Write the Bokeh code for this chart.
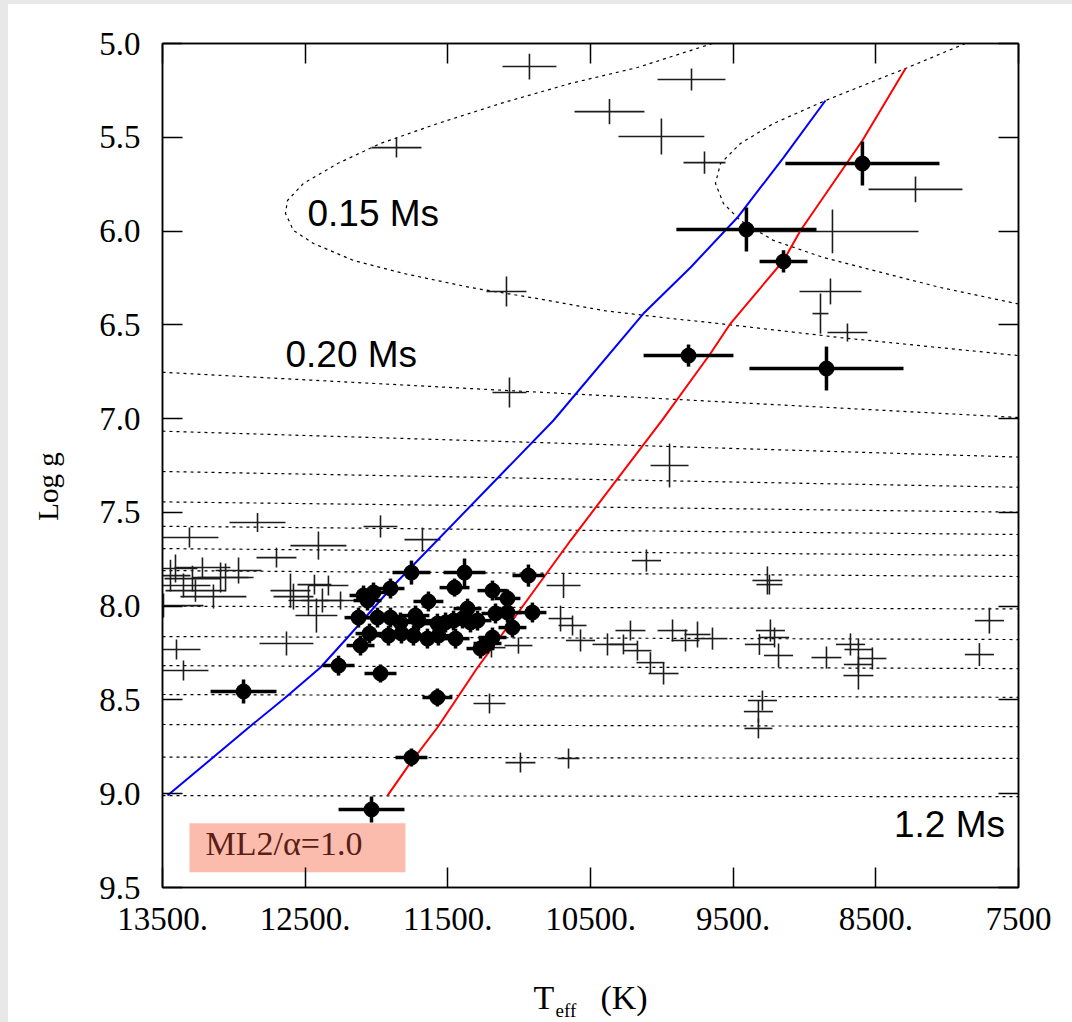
from math import pi

from bokeh.core.properties import value
from bokeh.embed import file_html
from bokeh.layouts import column, row
from bokeh.models import (BoxAnnotation, ColumnDataSource, FixedTicker, Label,
                          LinearAxis, Range1d, Spacer)
from bokeh.plotting import figure
from bokeh.resources import INLINE

# ---------------------------------------------------------------- data
x_ticks = [13500, 12500, 11500, 10500, 9500, 8500, 7500]
x_tick_labels = ["13500.", "12500.", "11500.", "10500.", "9500.", "8500.", "7500"]
y_ticks = [5.0, 5.5, 6.0, 6.5, 7.0, 7.5, 8.0, 8.5, 9.0, 9.5]
y_tick_labels = ["5.0", "5.5", "6.0", "6.5", "7.0", "7.5", "8.0", "8.5", "9.0", "9.5"]

# cooling tracks (0.20 ... 1.2 Ms): log g at the hot and cool ends of the plot
track_logg_hot = [6.753, 7.067, 7.282, 7.444, 7.574, 7.693, 7.810, 8.000,
                  8.162, 8.317, 8.471, 8.631, 8.805, 9.010]
track_logg_cool = [6.994, 7.205, 7.366, 7.499, 7.618, 7.730, 7.842, 8.015,
                   8.178, 8.333, 8.486, 8.642, 8.812, 9.016]

# low-mass tracks
loop_a_teff = [9645, 10171, 10640, 11110, 11573, 11972, 12273, 12512, 12624, 12638,
               12582, 12442, 12161, 11811, 11341, 10872, 10409, 9939, 9659, 8748, 7500]
loop_a_logg = [5.000, 5.128, 5.213, 5.315, 5.427, 5.533, 5.640, 5.746, 5.837, 5.906,
               5.997, 6.066, 6.157, 6.226, 6.301, 6.360, 6.424, 6.466, 6.488, 6.568, 6.664]
loop_b_teff = [7872, 8292, 8853, 9218, 9449, 9589, 9624, 9568, 9449, 9218, 8867,
               8517, 8047, 7500]
loop_b_logg = [5.000, 5.133, 5.304, 5.427, 5.533, 5.640, 5.746, 5.853, 5.944,
               6.050, 6.141, 6.210, 6.301, 6.389]

# instability strip edges
blue_edge_teff = [13465, 12862, 12638, 12393, 12203, 11881, 10760, 10129, 9799,
                  9470, 9147, 8853]
blue_edge_logg = [9.010, 8.626, 8.487, 8.327, 8.167, 7.890, 7.010, 6.440, 6.194,
                  5.928, 5.608, 5.304]
red_edge_teff = [11923, 11776, 11573, 11446, 11292, 11012, 10640, 9995, 9659,
                 9519, 9147, 9028, 8594, 8292]
red_edge_logg = [9.010, 8.850, 8.647, 8.503, 8.327, 8.039, 7.650, 7.005, 6.653,
                 6.493, 6.157, 5.997, 5.517, 5.133]

# non-variable stars
const_teff = [10928, 9792, 10367, 10003, 9701, 11860, 11089, 11068, 8222, 8804,
              8818, 8888, 8699, 9946, 7704, 7774, 10108, 10689, 9260, 9246,
              10570, 10381, 10220, 10269, 10171, 10080, 9988, 9925, 9834, 9750,
              9645, 9239, 9210, 9316, 9182, 8846, 8678, 8622, 8524, 8622,
              8622, 9295, 9323, 9323, 10654, 10991, 11208, 11005, 11194, 10710,
              10626, 12834, 13311, 12701, 12407, 11972, 11678, 13444, 13353, 13290,
              13220, 13093, 13058, 12967, 13143, 13493, 13269, 13409, 12603, 12582,
              12477, 12435, 12337, 12379, 12421, 12252, 12631, 13402, 13353]
const_logg = [5.123, 5.192, 5.363, 5.496, 5.635, 5.555, 6.322, 6.861, 5.778, 6.002,
              6.322, 6.440, 6.541, 7.250, 8.077, 8.258, 7.757, 7.890, 7.863, 7.885,
              8.183, 8.204, 8.130, 8.204, 8.237, 8.301, 8.359, 8.130, 8.183, 8.151,
              8.173, 8.130, 8.167, 8.204, 8.263, 8.274, 8.204, 8.231, 8.279, 8.370,
              8.311, 8.503, 8.562, 8.652, 8.812, 8.834, 8.519, 8.210, 8.221, 8.066,
              8.103, 7.554, 7.634, 7.741, 7.677, 7.575, 7.645, 7.837, 7.890, 7.853,
              7.794, 7.847, 7.847, 7.810, 7.949, 7.997, 7.917, 7.799, 7.917, 7.949,
              7.970, 7.885, 7.890, 7.970, 8.050, 7.970, 8.199, 8.231, 8.343]
const_teff_err = [189, 238, 245, 301, 147, 175, 140, 119, 329, 603,
                  217, 56, 140, 133, 102, 102, 102, 119, 105, 91,
                  102, 105, 105, 98, 98, 98, 105, 105, 98, 91,
                  105, 102, 102, 102, 102, 105, 102, 98, 98, 105,
                  102, 102, 102, 98, 77, 105, 112, 98, 98, 84,
                  98, 196, 203, 140, 196, 119, 126, 140, 189, 196,
                  196, 196, 196, 161, 231, 280, 210, 154, 140, 140,
                  140, 119, 140, 147, 147, 119, 189, 168, 175]
const_logg_err = [0.069, 0.059, 0.067, 0.096, 0.059, 0.053, 0.080, 0.080, 0.069, 0.117,
                  0.069, 0.107, 0.048, 0.117, 0.069, 0.061, 0.059, 0.067, 0.075, 0.053,
                  0.059, 0.059, 0.053, 0.053, 0.053, 0.056, 0.059, 0.059, 0.059, 0.069,
                  0.059, 0.059, 0.053, 0.056, 0.064, 0.059, 0.059, 0.059, 0.059, 0.075,
                  0.043, 0.053, 0.059, 0.053, 0.053, 0.053, 0.053, 0.043, 0.053, 0.069,
                  0.053, 0.051, 0.053, 0.053, 0.075, 0.059, 0.064, 0.085, 0.064, 0.069,
                  0.053, 0.080, 0.075, 0.069, 0.064, 0.064, 0.059, 0.075, 0.091, 0.069,
                  0.080, 0.053, 0.053, 0.064, 0.091, 0.048, 0.064, 0.053, 0.053]

# pulsating stars
zz_teff = [8594, 9407, 9147, 9813, 8846, 10935, 11383, 11755, 11453, 11187,
           11082, 11636, 12091, 12021, 11902, 12063, 11362, 10907, 11166, 11082,
           11047, 12126, 11993, 11902, 11832, 11727, 11706, 11573, 11516, 11460,
           11397, 11341, 11292, 12049, 11916, 11825, 11741, 11643, 11566, 11446,
           12112, 11271, 11222, 11187, 12266, 11972, 11573, 12932, 11755, 12035]
zz_logg = [5.640, 5.992, 6.162, 6.664, 6.733, 7.837, 7.821, 7.821, 7.901, 7.917,
           7.959, 7.975, 7.943, 7.927, 7.906, 7.970, 8.013, 8.034, 8.039, 8.034,
           8.114, 8.061, 8.061, 8.061, 8.087, 8.050, 8.077, 8.093, 8.087, 8.077,
           8.066, 8.087, 8.077, 8.146, 8.157, 8.146, 8.157, 8.173, 8.157, 8.173,
           8.210, 8.226, 8.199, 8.167, 8.317, 8.359, 8.487, 8.455, 8.807, 9.084]
zz_teff_err = [540, 491, 168, 315, 540, 112, 147, 133, 105, 105,
               91, 105, 98, 98, 98, 98, 98, 98, 98, 98,
               98, 98, 98, 98, 98, 98, 98, 98, 98, 98,
               98, 98, 98, 98, 98, 98, 98, 98, 98, 98,
               98, 98, 98, 98, 112, 112, 105, 231, 112, 231]
zz_logg_err = [0.117, 0.117, 0.059, 0.059, 0.117, 0.059, 0.075, 0.064, 0.048, 0.053,
               0.048, 0.053, 0.053, 0.053, 0.053, 0.053, 0.053, 0.053, 0.053, 0.053,
               0.053, 0.053, 0.053, 0.053, 0.053, 0.053, 0.053, 0.053, 0.053, 0.053,
               0.053, 0.053, 0.053, 0.053, 0.053, 0.053, 0.053, 0.053, 0.053, 0.053,
               0.053, 0.053, 0.053, 0.053, 0.053, 0.048, 0.048, 0.064, 0.048, 0.069]

# ---------------------------------------------------------------- figure
SERIF = "Liberation Serif"
SANS = "Liberation Sans"
GRAY = "#e8e8e8"

p = figure(width=990, height=950,
           x_range=Range1d(13500, 7500), y_range=Range1d(9.5, 5.0),
           output_backend="svg", toolbar_location=None,
           min_border_left=80, min_border_right=54,
           min_border_top=39, min_border_bottom=67)
p.background_fill_color = "white"
p.border_fill_color = "white"
p.xgrid.visible = False
p.ygrid.visible = False
p.outline_line_color = "black"
p.outline_line_width = 1.5


def style_axis(ax, ticks, labels, size, standoff):
    ax.ticker = FixedTicker(ticks=ticks)
    ax.major_label_overrides = dict(zip(ticks, labels))
    ax.major_tick_in = 20
    ax.major_tick_out = 0
    ax.minor_tick_in = 0
    ax.minor_tick_out = 0
    ax.axis_line_color = "black"
    ax.axis_line_width = 1.5
    ax.major_tick_line_color = "black"
    ax.major_tick_line_width = 1.5
    ax.major_label_text_font = SERIF
    ax.major_label_text_font_size = size
    ax.major_label_text_color = "black"
    ax.major_label_standoff = standoff


style_axis(p.xaxis[0], x_ticks, x_tick_labels, "33px", 20)
style_axis(p.yaxis[0], y_ticks, y_tick_labels, "33px", 22)

top_axis = LinearAxis()
style_axis(top_axis, x_ticks, [""] * len(x_ticks), "0px", 0)
p.add_layout(top_axis, "above")
right_axis = LinearAxis()
style_axis(right_axis, y_ticks, [""] * len(y_ticks), "0px", 0)
p.add_layout(right_axis, "right")

# model box in the lower-left corner
p.add_layout(BoxAnnotation(left=13311, right=11797, top=9.157, bottom=9.419,
                           fill_color="#fbbcae", fill_alpha=1.0,
                           line_color=None, level="underlay"))

# cooling tracks
p.multi_line(xs=[[x_ticks[0], x_ticks[-1]] for _ in track_logg_hot],
             ys=[[a, b] for a, b in zip(track_logg_hot, track_logg_cool)],
             line_color="black", line_width=1.2, line_dash="3 4")
p.line(loop_a_teff, loop_a_logg, line_color="black", line_width=1.2, line_dash="3 4")
p.line(loop_b_teff, loop_b_logg, line_color="black", line_width=1.2, line_dash="3 4")

# non-variables: thin error crosses
cs = ColumnDataSource(dict(
    t=const_teff, g=const_logg,
    t0=[t - e for t, e in zip(const_teff, const_teff_err)],
    t1=[t + e for t, e in zip(const_teff, const_teff_err)],
    g0=[g - e for g, e in zip(const_logg, const_logg_err)],
    g1=[g + e for g, e in zip(const_logg, const_logg_err)],
))
p.segment(x0="t0", y0="g", x1="t1", y1="g", source=cs, line_color="#1c1c1c", line_width=1.6)
p.segment(x0="t", y0="g0", x1="t", y1="g1", source=cs, line_color="#1c1c1c", line_width=1.6)

# instability strip edges
p.line(blue_edge_teff, blue_edge_logg, line_color="#0000ff", line_width=2)
p.line(red_edge_teff, red_edge_logg, line_color="#ff0000", line_width=2)

# pulsators: filled dots with heavy error bars
zs = ColumnDataSource(dict(
    t=zz_teff, g=zz_logg,
    t0=[t - e for t, e in zip(zz_teff, zz_teff_err)],
    t1=[t + e for t, e in zip(zz_teff, zz_teff_err)],
    g0=[g - e for g, e in zip(zz_logg, zz_logg_err)],
    g1=[g + e for g, e in zip(zz_logg, zz_logg_err)],
))
p.segment(x0="t0", y0="g", x1="t1", y1="g", source=zs, line_color="black", line_width=3.5)
p.segment(x0="t", y0="g0", x1="t", y1="g1", source=zs, line_color="black", line_width=3.5)
p.scatter(x="t", y="g", source=zs, size=15, marker="circle",
          fill_color="black", line_color="black")

# track and model annotations
for txt, tx, ty in [("0.15 Ms", 12484, 5.904), ("0.20 Ms", 12638, 6.658), ("1.2 Ms", 8373, 9.162)]:
    p.add_layout(Label(x=tx, y=ty, text=txt, text_font=SANS, text_font_size="37px",
                       text_color="black", text_align="left", text_baseline="middle"))

p.add_layout(Label(x=13199, y=9.266, text="ML2/\u03b1=1.0", text_font=SERIF,
                   text_font_size="34px", text_color="#5a1e14",
                   text_align="left", text_baseline="middle"))


def text_strip(width, height, x_range, y_range, borders):
    s = figure(width=width, height=height, x_range=x_range, y_range=y_range,
               output_backend="svg", toolbar_location=None,
               x_axis_location=None, y_axis_location=None,
               min_border_left=borders[0], min_border_right=borders[1],
               min_border_top=borders[2], min_border_bottom=borders[3])
    s.outline_line_color = None
    s.xgrid.visible = False
    s.ygrid.visible = False
    s.background_fill_color = None
    s.border_fill_color = "white"
    return s


# y-axis title, sharing the log g scale
left_strip = text_strip(74, 950, Range1d(0, 74), p.y_range, (0, 0, 39, 67))
left_strip.text(x=[39], y=[7.362], text=["Log g"], angle=pi / 2,
                text_font=value(SERIF), text_font_size="29px", text_color="black",
                text_align="center", text_baseline="middle")

# x-axis title with a subscript, sharing the Teff scale
bottom_strip = text_strip(1064, 68, p.x_range, Range1d(0, 68), (154, 54, 0, 0))
bottom_strip.text(x=[10900, 10430], y=[25.5, 25.5], text=["T", "(K)"],
                  text_font=value(SERIF), text_font_size="34px", text_color="black",
                  text_align="left", text_baseline="middle")
bottom_strip.text(x=[10745], y=[12], text=["eff"],
                  text_font=value(SERIF), text_font_size="19px", text_color="black",
                  text_align="left", text_baseline="middle")

content = column(row(left_strip, p, spacing=0), bottom_strip, spacing=0,
                 styles={"background-color": "white"})
top_bar = Spacer(width=1072, height=4, styles={"background-color": GRAY})
left_bar = Spacer(width=8, height=1018, styles={"background-color": GRAY})
page = column(top_bar, row(left_bar, content, spacing=0), spacing=0,
              styles={"background-color": "white"})

open("out.html", "w").write(file_html(page, INLINE))
